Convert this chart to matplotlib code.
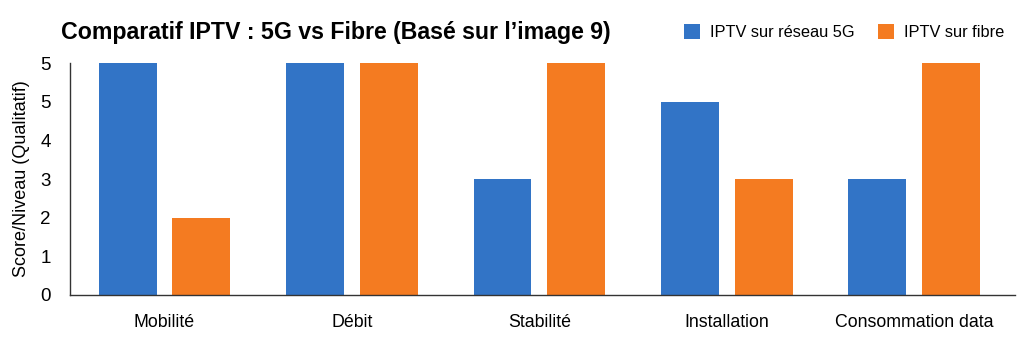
import matplotlib
matplotlib.use("Agg")
import matplotlib.pyplot as plt
import numpy as np

categories = ["Mobilité", "Débit", "Stabilité", "Installation", "Consommation data"]
series_names = ["IPTV sur réseau 5G", "IPTV sur fibre"]
values_5g = [6, 6, 3, 5, 3]
values_fibre = [2, 6, 6, 3, 6]
ytick_positions = [0, 1, 2, 3, 4, 5, 6]
ytick_labels = ["0", "1", "2", "3", "4", "5", "5"]

plt.rcParams['font.family'] = ['Liberation Sans', 'DejaVu Sans']

fig = plt.figure(figsize=(10.24, 3.41), dpi=100)
ax = fig.add_axes([0.0684, 0.135, 0.9226, 0.68])

x = np.arange(len(categories))
w = 0.309
off = 0.197
c5g = "#3274C6"
cfib = "#F47B21"
ax.bar(x - off, values_5g, w, color=c5g, label=series_names[0])
ax.bar(x + off, values_fibre, w, color=cfib, label=series_names[1])

ax.set_xlim(-0.504, 4.536)
ax.set_ylim(0, 6)
ax.set_yticks(ytick_positions)
ax.set_yticklabels(ytick_labels, fontsize=13.5)
ax.set_xticks(x)
ax.set_xticklabels(categories, fontsize=12.8)
ax.tick_params(axis='both', length=0)
ax.tick_params(axis='x', pad=14)
ax.tick_params(axis='y', pad=14)
for s in ["top", "right"]:
    ax.spines[s].set_visible(False)
for s in ["left", "bottom"]:
    ax.spines[s].set_color("#333333")
    ax.spines[s].set_linewidth(1.0)
ax.set_ylabel("Score/Niveau (Qualitatif)", fontsize=13, labelpad=7)

fig.text(0.06, 0.905, "Comparatif IPTV : 5G vs Fibre (Basé sur l’image 9)",
         fontsize=16.7, fontweight='bold', va='center', ha='left')

leg = fig.legend(loc='center right', bbox_to_anchor=(0.995, 0.905), ncol=2,
                 frameon=False, fontsize=11.8, handlelength=1.0, handleheight=1.0,
                 handletextpad=0.6, columnspacing=1.4)

fig.savefig("out.png", dpi=100)
